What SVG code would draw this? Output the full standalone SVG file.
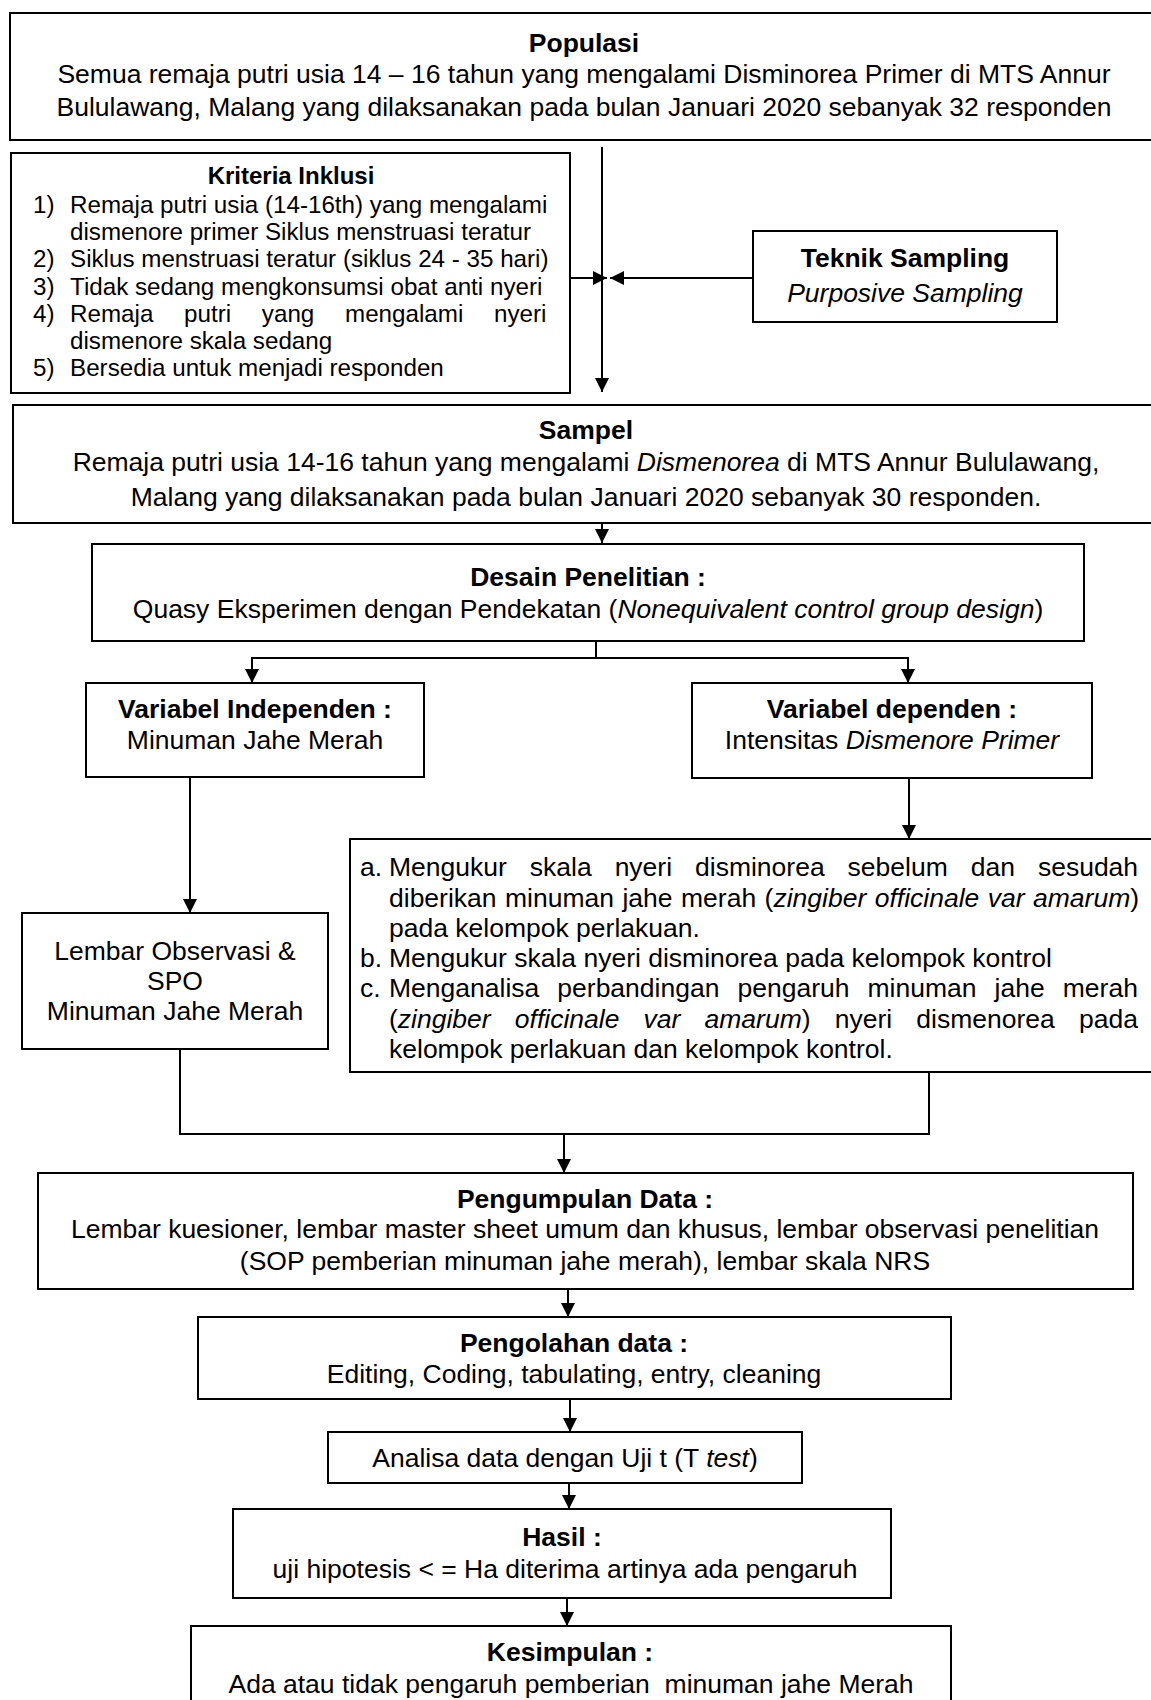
<svg xmlns="http://www.w3.org/2000/svg" width="1151" height="1700" viewBox="0 0 1151 1700">
<style>
.box{fill:#fff;stroke:#000;stroke-width:2}
.t{font-family:"Liberation Sans",Arial,sans-serif;font-size:26.5px;fill:#000}
.b{font-weight:bold}
.c{text-anchor:middle}
.i{font-style:italic}
.k{font-size:24.2px}
.kb{font-size:24px}
.ln{fill:none;stroke:#000;stroke-width:2}
.ar{fill:none;stroke:#000;stroke-width:2;marker-end:url(#ah)}
</style>
<defs>
<marker id="ah" markerUnits="userSpaceOnUse" markerWidth="15" markerHeight="15" refX="14" refY="7" orient="auto">
<path d="M0,0 L14,7 L0,14 Z" fill="#000"/>
</marker>
</defs>
<rect width="1151" height="1700" fill="#fff"/>

<g id="populasi">
<rect class="box" x="10" y="13" width="1150" height="127"/>
<text class="t b c" x="584" y="52">Populasi</text>
<text class="t c" x="584" y="83">Semua remaja putri usia 14 – 16 tahun yang mengalami Disminorea Primer di MTS Annur</text>
<text class="t c" x="584" y="116">Bululawang, Malang yang dilaksanakan pada bulan Januari 2020 sebanyak 32 responden</text>
</g>

<g id="kriteria">
<rect class="box" x="11" y="153" width="559" height="240"/>
<text class="t b c kb" x="291" y="184">Kriteria Inklusi</text>
<text class="t k" x="33" y="213">1)</text>
<text class="t k" x="70" y="213">Remaja putri usia (14-16th) yang mengalami</text>
<text class="t k" x="70" y="240">dismenore primer Siklus menstruasi teratur</text>
<text class="t k" x="33" y="267">2)</text>
<text class="t k" x="70" y="267">Siklus menstruasi teratur (siklus 24 - 35 hari)</text>
<text class="t k" x="33" y="295">3)</text>
<text class="t k" x="70" y="295">Tidak sedang mengkonsumsi obat anti nyeri</text>
<text class="t k" x="33" y="322">4)</text>
<text class="t k" x="70" y="322" word-spacing="24">Remaja putri yang mengalami nyeri</text>
<text class="t k" x="70" y="349">dismenore skala sedang</text>
<text class="t k" x="33" y="376">5)</text>
<text class="t k" x="70" y="376">Bersedia untuk menjadi responden</text>
</g>

<g id="teknik">
<rect class="box" x="753" y="231" width="304" height="91"/>
<text class="t b c" x="905" y="267">Teknik Sampling</text>
<text class="t i c" x="905" y="302">Purposive Sampling</text>
</g>

<g id="sampel">
<rect class="box" x="13" y="405" width="1150" height="118"/>
<text class="t b c" x="586" y="439">Sampel</text>
<text class="t c" x="586" y="471">Remaja putri usia 14-16 tahun yang mengalami <tspan class="i">Dismenorea</tspan> di MTS Annur Bululawang,</text>
<text class="t c" x="586" y="506">Malang yang dilaksanakan pada bulan Januari 2020 sebanyak 30 responden.</text>
</g>

<g id="desain">
<rect class="box" x="92" y="544" width="992" height="97"/>
<text class="t b c" x="588" y="586">Desain Penelitian :</text>
<text class="t c" x="588" y="618">Quasy Eksperimen dengan Pendekatan (<tspan class="i">Nonequivalent control group design</tspan>)</text>
</g>

<g id="var-independen">
<rect class="box" x="86" y="683" width="338" height="94"/>
<text class="t b c" x="255" y="718">Variabel Independen :</text>
<text class="t c" x="255" y="749">Minuman Jahe Merah</text>
</g>

<g id="var-dependen">
<rect class="box" x="692" y="683" width="400" height="95"/>
<text class="t b c" x="892" y="718">Variabel dependen :</text>
<text class="t c" x="892" y="749">Intensitas <tspan class="i">Dismenore Primer</tspan></text>
</g>

<g id="lembar">
<rect class="box" x="22" y="913" width="306" height="136"/>
<text class="t c" x="175" y="960">Lembar Observasi &amp;</text>
<text class="t c" x="175" y="990">SPO</text>
<text class="t c" x="175" y="1020">Minuman Jahe Merah</text>
</g>

<g id="pengukuran">
<rect class="box" x="350" y="839" width="810" height="233"/>
<text class="t" x="360" y="876">a.</text>
<text class="t" x="389" y="876" word-spacing="15.6">Mengukur skala nyeri disminorea sebelum dan sesudah</text>
<text class="t" x="389" y="906.5" word-spacing="1.1">diberikan minuman jahe merah (<tspan class="i">zingiber officinale var amarum</tspan>)</text>
<text class="t" x="389" y="937">pada kelompok perlakuan.</text>
<text class="t" x="360" y="967">b.</text>
<text class="t" x="389" y="967">Mengukur skala nyeri disminorea pada kelompok kontrol</text>
<text class="t" x="360" y="997">c.</text>
<text class="t" x="389" y="997" word-spacing="10.7">Menganalisa perbandingan pengaruh minuman jahe merah</text>
<text class="t" x="389" y="1027.5" word-spacing="16.8">(<tspan class="i">zingiber officinale var amarum</tspan>) nyeri dismenorea pada</text>
<text class="t" x="389" y="1058">kelompok perlakuan dan kelompok kontrol.</text>
</g>

<g id="pengumpulan">
<rect class="box" x="38" y="1173" width="1095" height="116"/>
<text class="t b c" x="585" y="1208">Pengumpulan Data :</text>
<text class="t c" x="585" y="1238">Lembar kuesioner, lembar master sheet umum dan khusus, lembar observasi penelitian</text>
<text class="t c" x="585" y="1270">(SOP pemberian minuman jahe merah), lembar skala NRS</text>
</g>

<g id="pengolahan">
<rect class="box" x="198" y="1317" width="753" height="82"/>
<text class="t b c" x="574" y="1352">Pengolahan data :</text>
<text class="t c" x="574" y="1383">Editing, Coding, tabulating, entry, cleaning</text>
</g>

<g id="analisa">
<rect class="box" x="328" y="1432" width="474" height="51"/>
<text class="t c" x="565" y="1467">Analisa data dengan Uji t (T <tspan class="i">test</tspan>)</text>
</g>

<g id="hasil">
<rect class="box" x="233" y="1509" width="658" height="89"/>
<text class="t b c" x="562" y="1546">Hasil :</text>
<text class="t c" x="565" y="1578">uji hipotesis &lt; = Ha diterima artinya ada pengaruh</text>
</g>

<g id="kesimpulan">
<rect class="box" x="191" y="1626" width="760" height="84"/>
<text class="t b c" x="570" y="1661">Kesimpulan :</text>
<text class="t c" x="571" y="1693" style="white-space:pre">Ada atau tidak pengaruh pemberian  minuman jahe Merah</text>
</g>

<g id="connectors">
<path class="ar" d="M602,147 V392"/>
<path class="ar" d="M570,278 H607"/>
<path class="ar" d="M753,278 H610"/>
<path class="ar" d="M602,523 V543"/>
<path class="ln" d="M596,641 V658 M252,658 H908"/>
<path class="ar" d="M252,657 V683"/>
<path class="ar" d="M908,657 V683"/>
<path class="ar" d="M190,777 V913"/>
<path class="ar" d="M909,778 V839"/>
<path class="ln" d="M180,1049 V1134 H929 V1072"/>
<path class="ar" d="M564,1134 V1173"/>
<path class="ar" d="M568,1289 V1317"/>
<path class="ar" d="M570,1399 V1432"/>
<path class="ar" d="M569,1483 V1509"/>
<path class="ar" d="M567,1598 V1626"/>
</g>
</svg>
